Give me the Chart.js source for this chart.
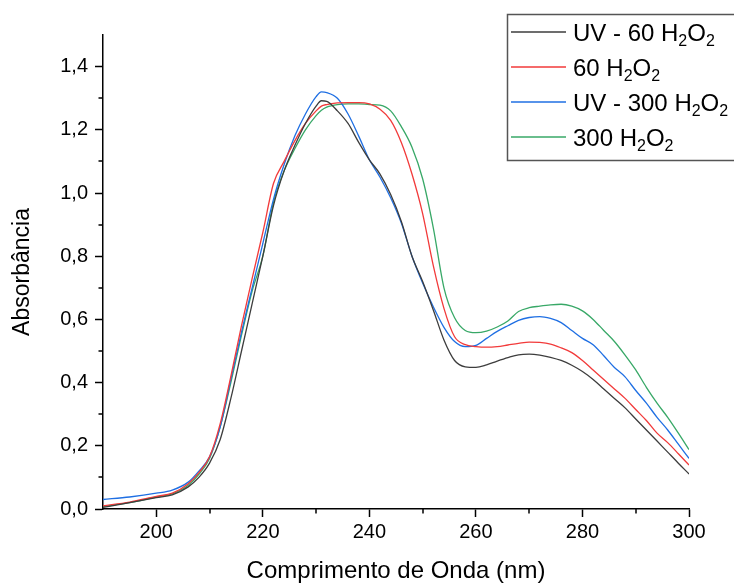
<!DOCTYPE html>
<html>
<head>
<meta charset="utf-8">
<script src="https://cdn.jsdelivr.net/npm/chart.js@4"></script>
<style>
  body { margin: 0; background: #fff; }
  #wrap { width: 734px; height: 583px; }
</style>
</head>
<body>
<div id="wrap"><canvas id="spectra" width="734" height="583"></canvas></div>
<script>
// wavelength (nm) shared by all four spectra
var wavelength = [190, 195, 200, 203, 206, 208, 210, 212, 214, 216, 218, 220, 222, 224, 226, 228, 230, 231,
  232, 234, 236, 238, 240, 242, 244, 246, 248, 250, 252, 254, 256, 258, 260, 262, 264, 266, 268, 270,
  272, 274, 276, 278, 280, 282, 284, 286, 288, 290, 292, 294, 296, 298, 300];

var uv60 = [0.005, 0.02, 0.036, 0.045, 0.07, 0.10, 0.145, 0.22, 0.35, 0.50, 0.65, 0.80, 0.96, 1.07, 1.15, 1.22, 1.275, 1.292,
  1.29, 1.26, 1.22, 1.16, 1.105, 1.06, 0.995, 0.91, 0.80, 0.72, 0.63, 0.535, 0.47, 0.45, 0.448, 0.456, 0.468, 0.479, 0.488, 0.49,
  0.487, 0.48, 0.47, 0.455, 0.435, 0.41, 0.38, 0.35, 0.32, 0.285, 0.25, 0.215, 0.18, 0.145, 0.111];

var h60 = [0.01, 0.022, 0.04, 0.05, 0.08, 0.115, 0.165, 0.27, 0.42, 0.58, 0.73, 0.875, 1.03, 1.10, 1.165, 1.22, 1.26, 1.275,
  1.28, 1.285, 1.286, 1.286, 1.282, 1.265, 1.23, 1.16, 1.06, 0.935, 0.77, 0.635, 0.545, 0.52, 0.514, 0.512, 0.514, 0.519, 0.524, 0.528,
  0.527, 0.522, 0.51, 0.495, 0.47, 0.44, 0.41, 0.38, 0.35, 0.315, 0.28, 0.24, 0.21, 0.175, 0.139];

var uv300 = [0.03, 0.038, 0.05, 0.06, 0.085, 0.12, 0.165, 0.26, 0.41, 0.56, 0.70, 0.84, 0.98, 1.09, 1.18, 1.25, 1.305, 1.32,
  1.318, 1.30, 1.25, 1.18, 1.105, 1.05, 0.985, 0.905, 0.80, 0.715, 0.64, 0.575, 0.53, 0.514, 0.518, 0.54, 0.562, 0.58, 0.597, 0.606,
  0.609, 0.603, 0.59, 0.565, 0.54, 0.52, 0.485, 0.448, 0.418, 0.375, 0.335, 0.29, 0.25, 0.205, 0.16];

var h300 = [0.008, 0.02, 0.038, 0.048, 0.075, 0.11, 0.16, 0.26, 0.40, 0.55, 0.69, 0.80, 0.97, 1.07, 1.14, 1.20, 1.245, 1.262,
  1.272, 1.28, 1.282, 1.282, 1.28, 1.278, 1.26, 1.21, 1.145, 1.045, 0.89, 0.70, 0.605, 0.565, 0.558, 0.563, 0.576, 0.595, 0.625, 0.637,
  0.642, 0.646, 0.648, 0.642, 0.627, 0.60, 0.565, 0.53, 0.487, 0.44, 0.385, 0.335, 0.29, 0.24, 0.188];

var seriesLabels = ['UV - 60 H₂O₂', '60 H₂O₂', 'UV - 300 H₂O₂', '300 H₂O₂'];
var seriesColors = ['#3d3d3d', '#f23a3a', '#1f6fe3', '#38a867'];

var xTicks = [200, 220, 240, 260, 280, 300];
var xMinor = [210, 230, 250, 270, 290];
var yTicks = [0, 0.2, 0.4, 0.6, 0.8, 1.0, 1.2, 1.4];
var yMinor = [0.1, 0.3, 0.5, 0.7, 0.9, 1.1, 1.3];

var FONT = "'Liberation Sans', Arial, sans-serif";

function points(ys) {
  return wavelength.map(function (w, i) { return { x: w, y: ys[i] }; });
}

var allSeries = [uv60, h60, uv300, h300];
var datasets = allSeries.map(function (ys, i) {
  return {
    label: seriesLabels[i],
    data: points(ys),
    borderColor: seriesColors[i],
    backgroundColor: seriesColors[i],
    borderWidth: 1.3,
    pointRadius: 0,
    fill: false,
    cubicInterpolationMode: 'monotone'
  };
});

// short ticks between the labelled ones
var minorTicks = {
  id: 'minorTicks',
  afterDraw: function (chart) {
    var ctx = chart.ctx, xs = chart.scales.x, ys = chart.scales.y, area = chart.chartArea;
    ctx.save();
    ctx.strokeStyle = '#000';
    ctx.lineWidth = 1.5;
    ctx.beginPath();
    xMinor.forEach(function (v) {
      var px = Math.round(xs.getPixelForValue(v));
      ctx.moveTo(px, area.bottom);
      ctx.lineTo(px, area.bottom + 4.5);
    });
    yMinor.forEach(function (v) {
      var py = Math.round(ys.getPixelForValue(v));
      ctx.moveTo(area.left, py);
      ctx.lineTo(area.left - 4.5, py);
    });
    ctx.stroke();
    ctx.restore();
  }
};

// draw text where ₂ becomes a lowered, smaller 2
function drawSubText(ctx, text, x, y) {
  for (var i = 0; i < text.length; i++) {
    var ch = text[i];
    if (ch === '₂') {
      ctx.font = '16px ' + FONT;
      ctx.fillText('2', x, y + 5);
      x += ctx.measureText('2').width;
    } else {
      ctx.font = '24px ' + FONT;
      ctx.fillText(ch, x, y);
      x += ctx.measureText(ch).width;
    }
  }
}

var legendBox = {
  id: 'legendBox',
  afterDraw: function (chart) {
    var ctx = chart.ctx;
    ctx.save();
    ctx.strokeStyle = '#555';
    ctx.lineWidth = 1.5;
    ctx.strokeRect(507.5, 14.5, 240, 146);
    ctx.textBaseline = 'alphabetic';
    ctx.fillStyle = '#000';
    chart.data.datasets.forEach(function (ds, i) {
      var y = 32 + i * 35;
      ctx.strokeStyle = ds.borderColor;
      ctx.lineWidth = 1.3;
      ctx.beginPath();
      ctx.moveTo(511, y);
      ctx.lineTo(566, y);
      ctx.stroke();
      drawSubText(ctx, ds.label, 573, y + 8.5);
    });
    ctx.restore();
  }
};

var ctx = document.getElementById('spectra').getContext('2d');
var myChart = new Chart(ctx, {
  type: 'line',
  data: { datasets: datasets },
  options: {
    responsive: false,
    animation: false,
    layout: { padding: { top: 35, right: 45, left: 0, bottom: 0 } },
    plugins: {
      legend: { display: false },
      tooltip: { enabled: false }
    },
    scales: {
      x: {
        type: 'linear',
        min: 190,
        max: 300,
        afterBuildTicks: function (scale) {
          scale.ticks = xTicks.map(function (v) { return { value: v }; });
        },
        afterFit: function (scale) { scale.height = 74; },
        grid: { drawOnChartArea: false, drawTicks: true, tickLength: 8, tickColor: '#000', tickWidth: 1.5 },
        border: { display: true, color: '#000', width: 1.5 },
        ticks: {
          color: '#000',
          padding: 3,
          maxRotation: 0,
          font: { family: FONT, size: 20 }
        },
        title: {
          display: true,
          text: 'Comprimento de Onda (nm)',
          color: '#000',
          font: { family: FONT, size: 24, lineHeight: 1 },
          padding: { top: 0, bottom: 0 }
        }
      },
      y: {
        min: 0,
        max: 1.5,
        afterBuildTicks: function (scale) {
          scale.ticks = yTicks.map(function (v) { return { value: v }; });
        },
        afterFit: function (scale) { scale.width = 103; },
        grid: { drawOnChartArea: false, drawTicks: true, tickLength: 8, tickColor: '#000', tickWidth: 1.5 },
        border: { display: true, color: '#000', width: 1.5 },
        ticks: {
          color: '#000',
          padding: 7,
          font: { family: FONT, size: 20 },
          callback: function (v) { return v.toFixed(1).replace('.', ','); }
        },
        title: {
          display: true,
          text: 'Absorbância',
          color: '#000',
          font: { family: FONT, size: 23, lineHeight: 1 },
          padding: { top: 11, bottom: 0 }
        }
      }
    }
  },
  plugins: [minorTicks, legendBox]
});
</script>
</body>
</html>
